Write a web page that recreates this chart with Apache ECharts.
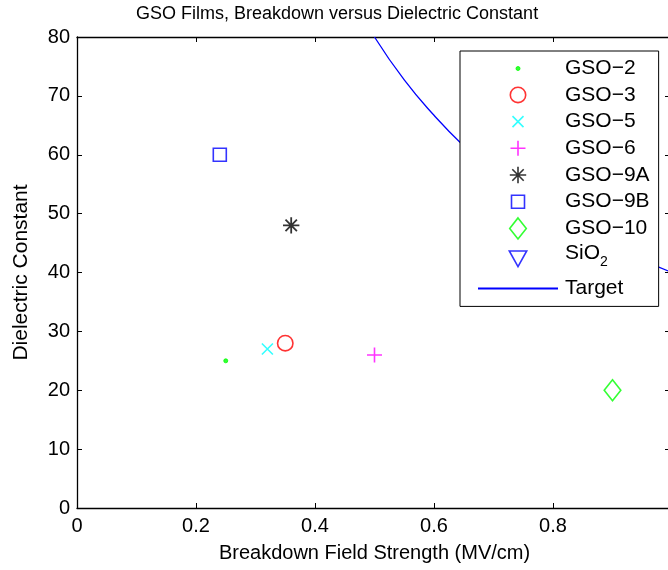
<!DOCTYPE html>
<html>
<head>
<meta charset="utf-8">
<script src="https://cdn.jsdelivr.net/npm/echarts@6/dist/echarts.min.js"></script>
<style>html,body{margin:0;padding:0;background:#fff}#c{width:668px;height:570px}</style>
</head>
<body>
<div id="c"></div>
<script>
// ---- data ----
const seriesNames = ['GSO\u22122', 'GSO\u22123', 'GSO\u22125', 'GSO\u22126', 'GSO\u22129A', 'GSO\u22129B', 'GSO\u221210', 'SiO2', 'Target'];
const gso2 = [[0.25, 25]];
const gso3 = [[0.35, 28]];
const gso5 = [[0.32, 27]];
const gso6 = [[0.50, 26]];
const gso9A = [[0.36, 48]];
const gso9B = [[0.24, 60]];
const gso10 = [[0.90, 20]];
const sio2 = [];
const target = [[0.50, 80], [0.55, 72.7], [0.60, 66.7], [0.65, 61.5], [0.70, 57.1], [0.75, 53.3],
                [0.80, 50.0], [0.85, 47.1], [0.90, 44.4], [0.95, 42.1], [1.00, 40.0]];
const xTicks = [0, 0.2, 0.4, 0.6, 0.8, 1];
const yTicks = [0, 10, 20, 30, 40, 50, 60, 70, 80];

// ---- marker shapes (24x24 frame, centred at 12,12) ----
const F = 'M0 0M24 24';
const shapes = {
  dot: 'path://' + F + 'M10 12a2 2 0 1 0 4 0a2 2 0 1 0 -4 0Z',
  circle: 'path://' + F + 'M4.3 12a7.7 7.7 0 1 0 15.4 0a7.7 7.7 0 1 0 -15.4 0Z',
  cross: 'path://' + F + 'M6.5 6.5L17.5 17.5M17.5 6.5L6.5 17.5',
  plus: 'path://' + F + 'M12 4.5L12 19.5M4.5 12L19.5 12',
  star: 'path://' + F + 'M12 3.8L12 20.2M3.8 12L20.2 12M6.3 6.3L17.7 17.7M17.7 6.3L6.3 17.7',
  square: 'path://' + F + 'M5.5 5.5H18.5V18.5H5.5Z',
  diamond: 'path://' + F + 'M12 1.5L20.3 12L12 22.5L3.7 12Z',
  tri: 'path://' + F + 'M3.3 4.2H20.7L12 19.8Z',
  none: 'path://' + F
};

function scatter(name, data, shape, color, filled, bw) {
  return {
    name: name, type: 'scatter', data: data,
    symbol: shapes[shape], symbolSize: 24, symbolKeepAspect: true,
    itemStyle: { color: filled ? color : 'rgba(0,0,0,0)', borderColor: color, borderWidth: bw || (filled ? 1 : 1.6) },
    emphasis: { disabled: true }
  };
}

const FONT = 'Liberation Sans, Arial, Helvetica, sans-serif';
const chart = echarts.init(document.getElementById('c'), null, { renderer: 'canvas' });
chart.setOption({
  animation: false,
  backgroundColor: '#fff',
  textStyle: { fontFamily: FONT },
  title: {
    text: 'GSO Films, Breakdown versus Dielectric Constant',
    left: 136, top: 5, padding: 0,
    textStyle: { fontFamily: FONT, fontSize: 18, fontWeight: 'normal', color: '#000' }
  },
  grid: { left: 77, width: 595, top: 37, height: 471, containLabel: false, outerBoundsMode: 'none' },
  xAxis: [{
    type: 'value', min: 0, max: 1, interval: 0.2, position: 'bottom',
    name: 'Breakdown Field Strength (MV/cm)', nameLocation: 'middle', nameGap: 35,
    nameTextStyle: { fontFamily: FONT, fontSize: 20, color: '#000' },
    axisLine: { show: true, onZero: false, lineStyle: { color: '#000', width: 1.3 } },
    axisTick: { show: true, inside: true, length: 5, lineStyle: { color: '#000', width: 1 } },
    axisLabel: { color: '#000', fontSize: 20, fontFamily: FONT, margin: 8, hideOverlap: false,
      showMaxLabel: true, showMinLabel: true,
      formatter: v => String(xTicks.find(t => Math.abs(t - v) < 1e-9) ?? v) },
    splitLine: { show: false }
  }, {
    type: 'value', min: 0, max: 1, interval: 0.2, position: 'top',
    axisLine: { show: true, onZero: false, lineStyle: { color: '#000', width: 1.3 } },
    axisTick: { show: true, inside: true, length: 5, lineStyle: { color: '#000', width: 1 } },
    axisLabel: { show: false }, splitLine: { show: false }
  }],
  yAxis: [{
    type: 'value', min: yTicks[0], max: yTicks[yTicks.length - 1], interval: 10, position: 'left',
    name: 'Dielectric Constant', nameLocation: 'middle', nameGap: 45, nameRotate: 90,
    nameTextStyle: { fontFamily: FONT, fontSize: 21, color: '#000' },
    axisLine: { show: true, onZero: false, lineStyle: { color: '#000', width: 1.3 } },
    axisTick: { show: true, inside: true, length: 5, lineStyle: { color: '#000', width: 1 } },
    axisLabel: { color: '#000', fontSize: 20, fontFamily: FONT, margin: 7 },
    splitLine: { show: false }
  }, {
    type: 'value', min: yTicks[0], max: yTicks[yTicks.length - 1], interval: 10, position: 'right',
    axisLine: { show: true, onZero: false, lineStyle: { color: '#000', width: 1.3 } },
    axisTick: { show: true, inside: true, length: 7, lineStyle: { color: '#000', width: 1 } },
    axisLabel: { show: false }, splitLine: { show: false }
  }],
  legend: {
    orient: 'vertical', left: 460, top: 51,
    padding: [5, 9, 6, 17], itemGap: 1.1, itemWidth: 80, itemHeight: 24,
    backgroundColor: '#fff', borderColor: '#000', borderWidth: 1, borderRadius: 0,
    selectedMode: false,
    itemStyle: { borderWidth: 1.6 },
    textStyle: { fontFamily: FONT, fontSize: 21, color: '#000', lineHeight: 24, padding: [0, 0, 0, 2],
      rich: {
        a: { fontFamily: FONT, fontSize: 21, color: '#000', lineHeight: 33, verticalAlign: 'top' },
        sub: { fontFamily: FONT, fontSize: 14, color: '#000', verticalAlign: 'middle', padding: [7, 0, 0, 0] }
      } },
    formatter: n => n === 'SiO2' ? '{a|SiO}{sub|2}' : n,
    data: seriesNames.map((n, i) => i === 0 ? { name: n, itemStyle: { borderWidth: 1 } }
                                 : (i === 8 ? { name: n, itemStyle: { opacity: 0 } } : { name: n })),
    z: 10
  },
  series: [
    scatter(seriesNames[0], gso2, 'dot', '#00ff00', true),
    scatter(seriesNames[1], gso3, 'circle', '#ff0000', false),
    scatter(seriesNames[2], gso5, 'cross', '#00ffff', false),
    scatter(seriesNames[3], gso6, 'plus', '#ff00ff', false),
    scatter(seriesNames[4], gso9A, 'star', '#000000', false, 1.8),
    scatter(seriesNames[5], gso9B, 'square', '#0000ff', false),
    scatter(seriesNames[6], gso10, 'diamond', '#00ff00', false),
    scatter(seriesNames[7], sio2, 'tri', '#0000ff', false),
    {
      name: seriesNames[8], type: 'line', data: target, smooth: true,
      showSymbol: false, symbol: shapes.none, clip: true,
      lineStyle: { color: '#0000ff', width: 1.3 }, itemStyle: { color: '#0000ff' },
      emphasis: { disabled: true }
    }
  ]
});
</script>
</body>
</html>
